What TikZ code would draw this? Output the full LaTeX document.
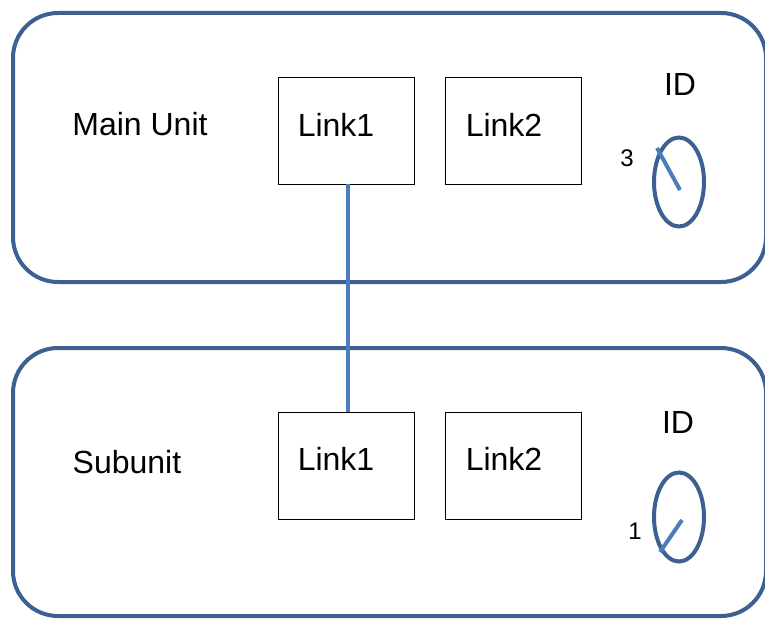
\documentclass[tikz,border=0pt]{standalone}
\usepackage{fontspec}
\setmainfont{Liberation Sans}
\usetikzlibrary{shapes.geometric}
\definecolor{frameblue}{HTML}{3B6091}
\definecolor{wireblue}{HTML}{4A7EBB}
\tikzset{
  unitbox/.style={draw=frameblue, line width=4pt, rounded corners=45pt},
  linkbox/.style={draw=black, line width=0.9pt, minimum width=136pt, minimum height=107pt, inner sep=0pt},
  bigtext/.style={font=\fontsize{32}{36}\selectfont, inner sep=0pt},
  smalltext/.style={font=\fontsize{24}{28}\selectfont, inner sep=0pt},
  dial/.style={draw=frameblue, line width=4pt, ellipse, minimum width=50pt, minimum height=89pt, inner sep=0pt},
  needle/.style={draw=wireblue, line width=4pt},
  wire/.style={draw=wireblue, line width=4pt}
}
\begin{document}
\begin{tikzpicture}[x=1pt,y=-1pt]
\useasboundingbox (0,0) rectangle (765,618);
\fill[white] (0,0) rectangle (765,618);

% the two unit frames
\draw[unitbox] (13,13) rectangle (766,282);
\draw[unitbox] (13,348) rectangle (766,616);

% main unit
\node[bigtext] (mainlbl) at (140,124) {Main Unit};
\node[linkbox] (m1) at (346,130.5) {};
\node[bigtext] (m1t) at (336,125) {Link1};
\node[linkbox] (m2) at (513,130.5) {};
\node[bigtext] (m2t) at (504,125) {Link2};
\node[bigtext] (mid) at (680,84) {ID};
\node[dial] (mdial) at (679,182) {};
\coordinate (mn1) at (657,148);
\coordinate (mn2) at (680,190);
\draw[needle] (mn1) -- (mn2);
\node[smalltext] (mval) at (627,158) {3};

% subunit
\node[bigtext] (sublbl) at (127,462) {Subunit};
\node[linkbox] (s1) at (346,465.5) {};
\node[bigtext] (s1t) at (336,459) {Link1};
\node[linkbox] (s2) at (513,465.5) {};
\node[bigtext] (s2t) at (504,459) {Link2};
\node[bigtext] (sid) at (678,422) {ID};
\node[dial] (sdial) at (679,517) {};
\coordinate (sn1) at (660,552);
\coordinate (sn2) at (682,520);
\draw[needle] (sn1) -- (sn2);
\node[smalltext] (sval) at (635,531) {1};

% link between the two Link1 ports
\draw[wire] (m1.south -| 348,0) -- (s1.north -| 348,0);
\end{tikzpicture}
\end{document}
